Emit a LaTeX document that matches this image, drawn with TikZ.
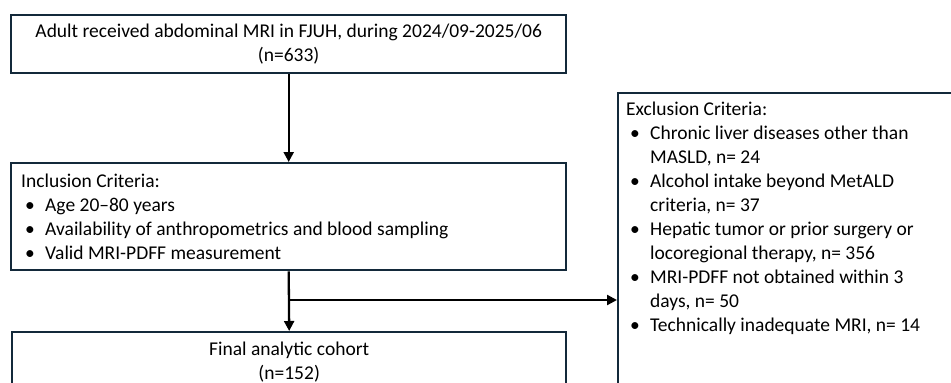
\documentclass[tikz,border=0pt]{standalone}
\usepackage{fontspec}
\setmainfont{Carlito}
\usetikzlibrary{arrows.meta,positioning}
\definecolor{boxline}{HTML}{13293A}
\newcommand{\bitem}[1]{\par\hangindent=24pt\hangafter=1\noindent\makebox[24pt][l]{\hspace{4pt}\textbullet}#1}

\begin{document}
\begin{tikzpicture}[x=1pt,y=1pt,font=\fontsize{19.5}{24}\selectfont,
    box/.style={draw=boxline,line width=2.4pt,rectangle,anchor=north west,inner sep=0pt},
    flow/.style={-{Triangle[length=10pt,width=10pt]},line width=2.3pt}]
      \useasboundingbox (0,0) rectangle (951,-383);
      \clip (0,0) rectangle (951,-383);

      \node[box] (adult) at (10,-14)
        {\parbox[t][58pt][c]{555pt}{\centering Adult received abdominal MRI in FJUH, during 2024/09-2025/06\\(n=633)}};
      \node[box] (incl) at (10,-162)
        {\parbox[t][107pt][c]{555pt}{\raggedright\leftskip=10pt Inclusion Criteria:
         \bitem{Age 20--80 years}
         \bitem{Availability of anthropometrics and blood sampling}
         \bitem{Valid MRI-PDFF measurement}}};
      \node[box] (final) at (11,-331)
        {\parbox[t][70pt][t]{554pt}{\centering\vspace{10pt}Final analytic cohort\\(n=152)}};
      \node[box] (excl) at (617,-92)
        {\parbox[t][320pt][t]{360pt}{\raggedright\leftskip=8pt\vspace{9pt}Exclusion Criteria:
         \bitem{Chronic liver diseases other than\newline MASLD, n= 24}
         \bitem{Alcohol intake beyond MetALD\newline criteria, n= 37}
         \bitem{Hepatic tumor or prior surgery or\newline locoregional therapy, n= 356}
         \bitem{MRI-PDFF not obtained within 3\newline days, n= 50}
         \bitem{Technically inadequate MRI, n= 14}}};

      \coordinate (split) at (incl.south |- 0,-300);
      \draw[flow] (adult.south) -- (incl.north);
      \draw[flow] (incl.south) -- (final.north);
      \draw[flow] (split) -- (split -| excl.west);
\end{tikzpicture}
\end{document}
